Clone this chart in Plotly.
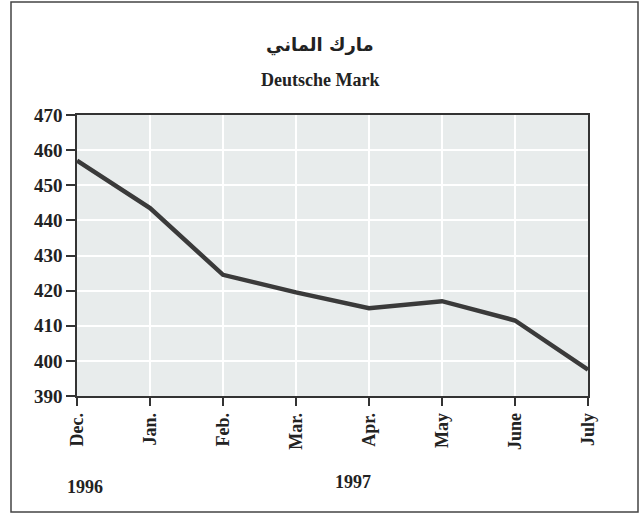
import plotly.graph_objects as go

months = ["Dec.", "Jan.", "Feb.", "Mar.", "Apr.", "May", "June", "July"]
values = [457, 443.5, 424.5, 419.5, 415, 417, 411.5, 397.5]
y_ticks = [390, 400, 410, 420, 430, 440, 450, 460, 470]
title_ar = "مارك الماني"
title_en = "Deutsche Mark"
years = ["1996", "1997"]

W, H = 644, 522
L, R, T, B = 77, 588, 115, 396
pw, ph = R - L, B - T

serif = "Liberation Serif"

fig = go.Figure()
fig.add_trace(go.Scatter(
    x=list(range(len(months))), y=values, mode="lines",
    line=dict(color="#3a3a3a", width=4.5), showlegend=False, hoverinfo="skip"))

fig.update_layout(
    width=W, height=H,
    margin=dict(l=L, r=W - R, t=T, b=H - B),
    paper_bgcolor="white",
    plot_bgcolor="#e8ecec",
    font=dict(family=serif, color="#222"),
    xaxis=dict(range=[0, len(months) - 1], tickvals=list(range(len(months))),
               ticktext=months, tickangle=-90,
               tickfont=dict(family=serif, size=18, color="#222", weight="bold"),
               showgrid=True, gridcolor="white", gridwidth=2,
               showline=True, linecolor="#333", linewidth=1.5, mirror=True,
               ticks="outside", ticklen=8, tickcolor="#333", tickwidth=1.5,
               zeroline=False, fixedrange=True),
    yaxis=dict(range=[390, 470], tickvals=y_ticks,
               tickfont=dict(family=serif, size=19, color="#222", weight="bold"),
               showgrid=True, gridcolor="white", gridwidth=2,
               showline=True, linecolor="#333", linewidth=1.5, mirror=True,
               ticks="outside", ticklen=9, tickcolor="#333", tickwidth=1.5,
               zeroline=False, fixedrange=True),
)

def px(x):
    return (x - L) / pw

def py(y):
    return (B - y) / ph

def label(text, x, y, family, size, bold=True):
    fig.add_annotation(text=text, x=px(x), y=py(y), xref="paper", yref="paper",
                       xanchor="center", yanchor="middle", showarrow=False,
                       font=dict(family=family, size=size, color="#222",
                                 weight="bold" if bold else "normal"))

label(title_ar, 320, 45, "DejaVu Sans", 18)
label(title_en, 320, 80, serif, 18)
label(years[0], 85, 487, serif, 18)
label(years[1], 353, 482, serif, 18)

fig.add_shape(type="rect", xref="paper", yref="paper",
              xsizemode="pixel", ysizemode="pixel", xanchor=0, yanchor=0,
              x0=11 - L, x1=638 - L, y0=B - 512, y1=B - 2,
              line=dict(color="#444", width=1.5), fillcolor="rgba(0,0,0,0)")

fig.write_html("out.html", config={"displayModeBar": False},
               post_script="document.body.style.margin='0';document.body.style.overflow='hidden';")
